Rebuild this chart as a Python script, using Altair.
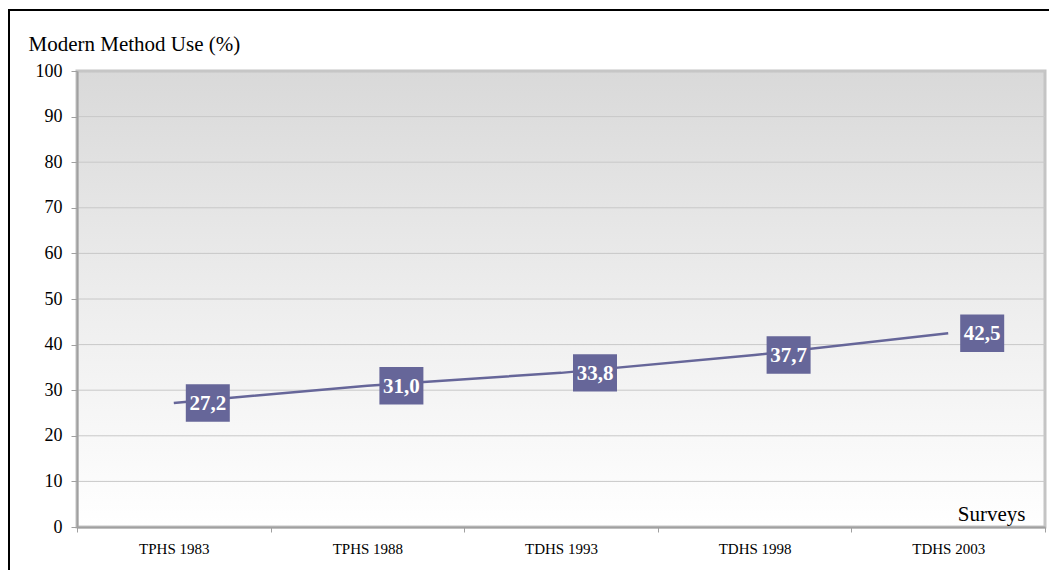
import altair as alt
import pandas as pd

surveys = ["TPHS 1983", "TPHS 1988", "TDHS 1993", "TDHS 1998", "TDHS 2003"]
values = [27.2, 31.0, 33.8, 37.7, 42.5]
y_ticks = list(range(0, 101, 10))

W, H = 968, 456
SERIF = "Liberation Serif"
LINE_COLOR = "#666699"

df = pd.DataFrame({
    "survey": surveys,
    "value": values,
    "label": [f"{v:.1f}".replace(".", ",") for v in values],
})
grid_df = pd.DataFrame({"value": y_ticks[1:]})
one = pd.DataFrame({"a": [0]})

yscale = alt.Scale(domain=[0, 100], nice=False, zero=True)
xscale = alt.Scale(domain=surveys, paddingInner=0, paddingOuter=0)

x_axis = alt.Axis(
    tickBand="extent", labelAngle=0, grid=False, zindex=1,
    domainColor="#a0a0a0", domainWidth=2, tickColor="#a0a0a0", tickSize=5, tickWidth=1,
    labelFont=SERIF, labelFontSize=15, labelColor="black", labelPadding=9,
    title="Surveys", titleFont=SERIF, titleFontSize=21, titleFontWeight="normal",
    titleColor="black", titleX=948, titleY=-7, titleAlign="right",
    titleBaseline="alphabetic", titleAnchor="end",
)
y_axis = alt.Axis(
    values=y_ticks, grid=False, zindex=1,
    domainColor="#a0a0a0", domainWidth=2, tickColor="#a0a0a0", tickSize=6, tickWidth=1,
    labelFont=SERIF, labelFontSize=18, labelColor="black", labelPadding=9,
    title="Modern Method Use (%)", titleFont=SERIF, titleFontSize=21,
    titleFontWeight="normal", titleColor="black", titleAngle=0,
    titleX=-49, titleY=-21, titleAlign="left", titleBaseline="alphabetic",
)

def X():
    return alt.X("survey:N", sort=surveys, scale=xscale, axis=x_axis)

def Y():
    return alt.Y("value:Q", scale=yscale, axis=y_axis)

# background panel with gradient
bg = alt.Chart(one).mark_rect(
    fill=alt.Gradient(
        gradient="linear",
        stops=[alt.GradientStop(color="#d9d9d9", offset=0),
               alt.GradientStop(color="#ededed", offset=0.5),
               alt.GradientStop(color="#ffffff", offset=1)],
        x1=0, x2=0, y1=0, y2=1,
    ),
    stroke="#c4c4c4", strokeWidth=3,
).encode(x=alt.value(0), x2=alt.value(W), y=alt.value(0), y2=alt.value(H))

grid = alt.Chart(grid_df).mark_rule(color="#c8c8c8", strokeWidth=1).encode(
    y=Y(), x=alt.value(0), x2=alt.value(W),
)

# outer black frame (left and top edges)
frame_left = alt.Chart(one).mark_rule(color="black", strokeWidth=2).encode(
    x=alt.value(-68), y=alt.value(-61), y2=alt.value(H + 60))
frame_top = alt.Chart(one).mark_rule(color="black", strokeWidth=2).encode(
    x=alt.value(-69), x2=alt.value(W + 10), y=alt.value(-61))

base = alt.Chart(df)

line = base.mark_line(color=LINE_COLOR, strokeWidth=2.5).encode(x=X(), y=Y())

boxes = base.mark_point(
    shape="M-1,-0.852H1V0.852H-1Z", size=1936, filled=True, fill=LINE_COLOR,
    opacity=1, strokeWidth=0, xOffset=34,
).encode(x=X(), y=Y())

texts = base.mark_text(
    font=SERIF, fontSize=21, fontWeight="bold", color="white",
    xOffset=34, align="center", baseline="middle", dy=1,
).encode(x=X(), y=Y(), text="label:N")

chart = alt.layer(bg, grid, line, boxes, texts, frame_left, frame_top).properties(
    width=W, height=H,
    padding={"left": 69, "top": 63, "right": 4, "bottom": 43},
    autosize=alt.AutoSizeParams(type="none"),
    background="white",
).configure_view(strokeWidth=0)

chart.save("out.html", embed_options={"renderer": "svg", "actions": False})
